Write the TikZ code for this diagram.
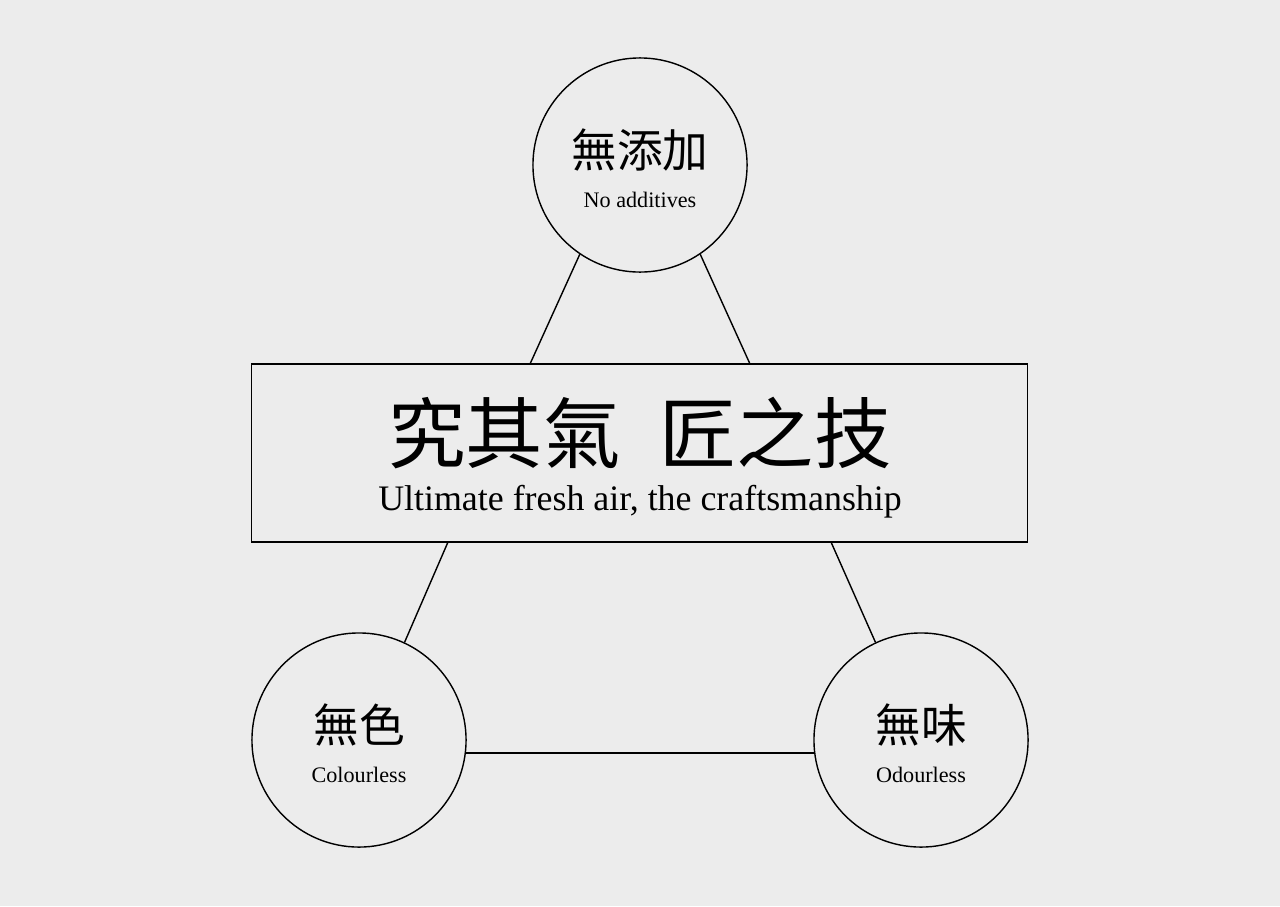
\documentclass[tikz,border=0pt]{standalone}
\usepackage{fontspec}
\setmainfont{Liberation Serif}
\newfontfamily\cjk{Noto Sans CJK TC}
\usetikzlibrary{calc}
\begin{document}
\begin{tikzpicture}[x=0.01cm,y=-0.01cm,line width=0.4pt]
            \fill[gray!15] (0,0) rectangle (1280,906);
            \useasboundingbox (0,0) rectangle (1280,906);
            \tikzset{ball/.style={draw,circle,minimum size=2.14cm,inner sep=0pt,fill=gray!15,align=center},
                     zh/.style={font=\cjk\fontsize{13}{13}\selectfont},
                     en/.style={font=\fontsize{6.3}{7}\selectfont}}
            \node[ball] (top) at (640,165) {};
            \node[ball] (left) at (359,740) {};
            \node[ball] (right) at (921,740) {};
            \node[draw,minimum width=7.75cm,minimum height=1.78cm] (box) at (639.5,453) {};
            % labels
            \node[zh] (topzh) at (640,150) {無添加};
            \node[en] (topen) at (640,200) {No additives};
            \node[zh] (leftzh) at (359,725) {無色};
            \node[en] (leften) at (359,775) {Colourless};
            \node[zh] (rightzh) at (921,725) {無味};
            \node[en] (righten) at (921,775) {Odourless};
            \node[font=\cjk\fontsize{22}{22}\selectfont] (boxzh) at (640,433) {究其氣\hspace{0.5em}匠之技};
            \node[font=\fontsize{10.2}{12}\selectfont] (boxen) at (640,502) {Ultimate fresh air, the craftsmanship};
            % connectors
            \coordinate (b1) at (530,364);
            \coordinate (b2) at (750,364);
            \coordinate (b3) at (448,542);
            \coordinate (b4) at (831,542);
            \draw (top.-124) -- (b1);
            \draw (top.-56) -- (b2);
            \draw (left.65) -- (b3);
            \draw (right.115) -- (b4);
            \draw (left.-7) -- (right.187);
        \end{tikzpicture}
\end{document}
